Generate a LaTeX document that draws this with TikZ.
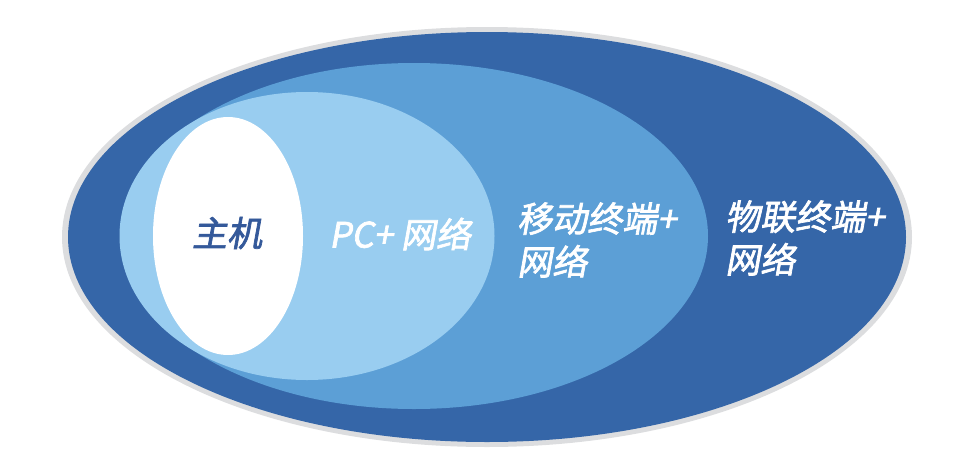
\documentclass[tikz,border=0pt]{standalone}
\usepackage{fontspec}
\usetikzlibrary{shapes.geometric}
\newfontfamily\cjk[FakeSlant=0.18,FakeBold=2]{Noto Sans CJK SC}
\definecolor{rimgray}{HTML}{DCDDDF}
\definecolor{darkblue}{HTML}{3566A8}
\definecolor{midblue}{HTML}{5C9FD6}
\definecolor{lightblue}{HTML}{99CDF0}
\definecolor{txtblue}{HTML}{34599A}
\begin{document}
\begin{tikzpicture}[x=1pt,y=-1pt,
  oval/.style={ellipse, inner sep=0pt, draw=none},
  lbl/.style={font=\cjk\fontsize{35}{43}\selectfont, inner sep=0pt, text=white}]
\useasboundingbox (0,0) rectangle (980,464);
\node[oval, fill=rimgray, minimum width=850pt, minimum height=420pt] (rim) at (487,237) {};
\node[oval, fill=darkblue, minimum width=838pt, minimum height=410pt] (iot) at (487,237) {};
\node[oval, fill=midblue, minimum width=588pt, minimum height=346pt] (mob) at (414,236) {};
\node[oval, fill=lightblue, minimum width=375pt, minimum height=288pt] (pc) at (307,236) {};
\node[oval, fill=white, minimum width=150pt, minimum height=238pt] (host) at (228,236) {};
\node[lbl, text=txtblue] (thost) at (227,233) {主机};
\node[lbl] (tpc) at (400,234) {PC+ 网络};
\node[lbl, anchor=west, align=left] (tmob) at (517,240) {移动终端+\\网络};
\node[lbl, anchor=west, align=left] (tiot) at (725,238) {物联终端+\\网络};
\end{tikzpicture}
\end{document}
